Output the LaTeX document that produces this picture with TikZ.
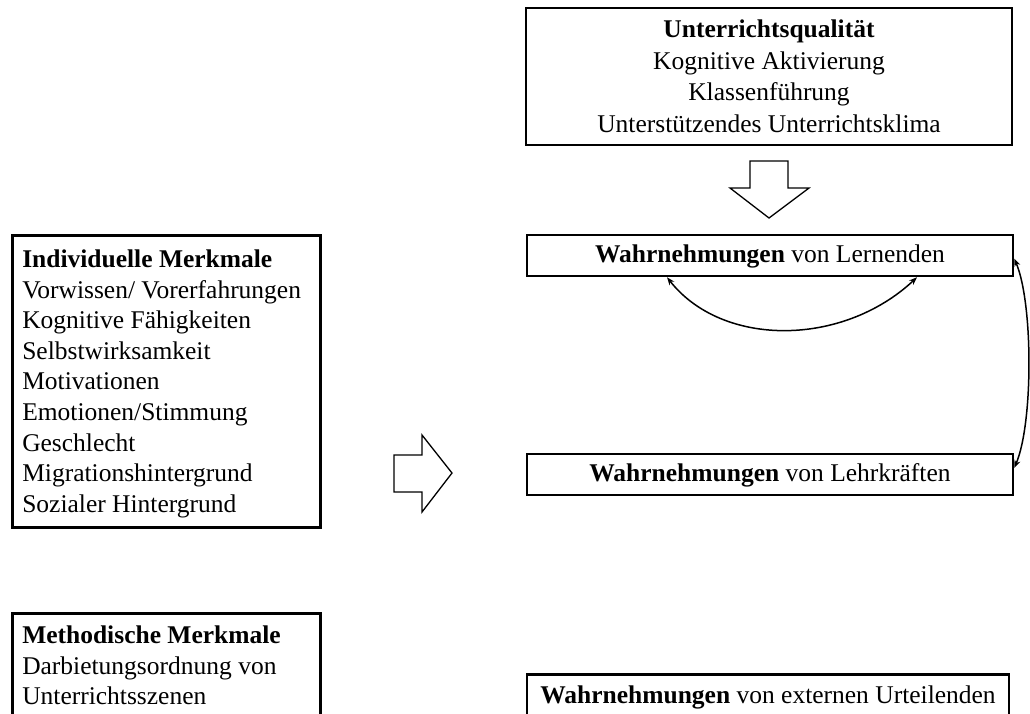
\documentclass[tikz,border=0pt]{standalone}
\usepackage{fontspec}
\setmainfont{Liberation Serif}
\usetikzlibrary{arrows.meta}
\begin{document}
\begin{tikzpicture}[x=1pt,y=-1pt,
  box/.style={draw=black, line width=2.5pt, inner sep=0pt},
  txt/.style={font=\fontsize{25.5}{30.6}\selectfont},
  oneline/.style={box, txt, minimum width=486pt, minimum height=41pt,
    text height=20.4pt, text depth=5.5pt},
  blockarrow/.style={draw=black, line width=1.3pt, line join=miter, fill=white},
  link/.style={draw=black, line width=1.5pt,
    {Stealth[length=8pt,width=6pt]}-{Stealth[length=8pt,width=6pt]}}
]
\useasboundingbox (0,0) rectangle (1030,713);
\clip (0,0) rectangle (1030,713);

% teaching quality
\node[box, font=\fontsize{25.5}{31.5}\selectfont, align=center,
      minimum width=486pt, minimum height=137pt] (quality) at (769,76.5)
  {\textbf{Unterrichtsqualität}\\Kognitive Aktivierung\\Klassenführung\\Unterstützendes Unterrichtsklima};

% individual characteristics
\node[box, txt, anchor=north west, inner xsep=10pt, inner ysep=14.6pt] (indiv) at (11,234)
  {\parbox[t][262.8pt][t]{288pt}{\raggedright\textbf{Individuelle Merkmale}\\
   Vorwissen/ Vorerfahrungen\\Kognitive Fähigkeiten\\Selbstwirksamkeit\\Motivationen\\
   Emotionen/Stimmung\\Geschlecht\\Migrationshintergrund\\Sozialer Hintergrund}};

% methodological characteristics
\node[box, txt, anchor=north west, inner xsep=10pt, inner ysep=12.6pt] (method) at (11,612)
  {\parbox[t][140pt][t]{288pt}{\raggedright\textbf{Methodische Merkmale}\\
   Darbietungsordnung von\\Unterrichtsszenen}};

% perceptions
\node[oneline] (learners) at (770,255.5) {\textbf{Wahrnehmungen} von Lernenden};
\node[oneline] (teachers) at (770,474.5) {\textbf{Wahrnehmungen} von Lehrkräften};
\node[box, txt, anchor=north, minimum width=482pt, text height=17.4pt, text depth=45pt,
      inner ysep=11.6pt] (external) at (768,673)
  {\textbf{Wahrnehmungen} von externen Urteilenden};

% block arrows
\draw[blockarrow] (750,161) -- (788,161) -- (788,188) -- (809,188) -- (769,218)
  -- (730,188) -- (750,188) -- cycle;
\draw[blockarrow] (394,455) -- (422,455) -- (422,435) -- (452,473) -- (422,512)
  -- (422,492) -- (394,492) -- cycle;

% mutual relations
\draw[link] ([xshift=-103pt]learners.south) .. controls +(55,70) and +(-75,70)
  .. ([xshift=147pt]learners.south);
\draw[link] ([yshift=-3pt]learners.east) .. controls +(19,45) and +(19,-45)
  .. ([yshift=6.5pt]teachers.east);
\end{tikzpicture}
\end{document}
